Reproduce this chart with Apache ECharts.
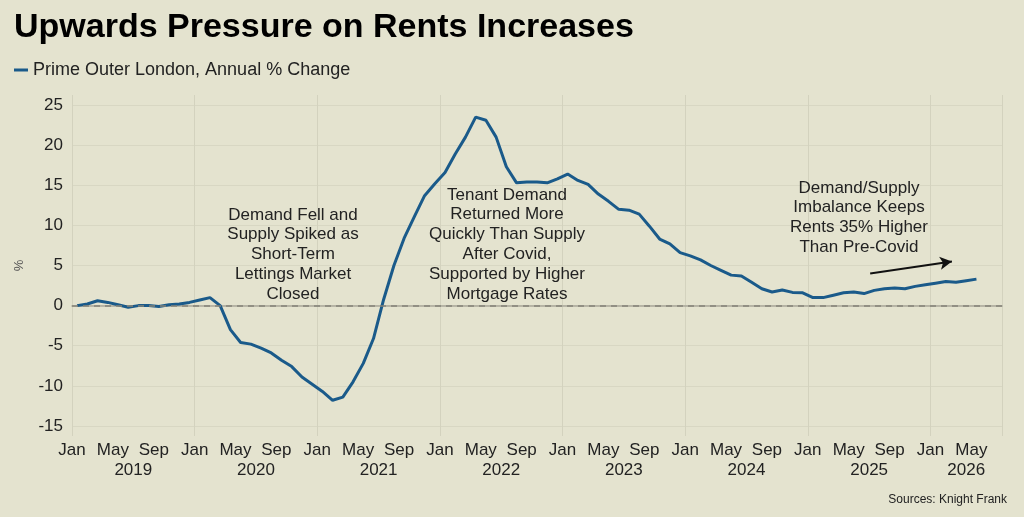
<!DOCTYPE html>
<html>
<head>
<meta charset="utf-8">
<script src="https://cdn.jsdelivr.net/npm/echarts@6/dist/echarts.min.js"></script>
<style>
  html, body { margin: 0; padding: 0; background: #e4e3cf; }
  #chart { width: 1024px; height: 517px; }
</style>
</head>
<body>
<div id="chart"></div>
<script>
// monthly values, Jan 2019 .. May 2026
var values = [
  0.0, 0.2, 0.6, 0.4, 0.1, -0.2, 0.0, 0.0, -0.1, 0.1, 0.2, 0.4,
  0.7, 1.0, 0.0, -3.0, -4.6, -4.8, -5.3, -5.9, -6.8, -7.6, -8.9, -9.8,
  -10.7, -11.8, -11.4, -9.5, -7.2, -4.1, 0.8, 5.0, 8.4, 11.1, 13.7, 15.2,
  16.6, 18.9, 21.0, 23.5, 23.1, 21.0, 17.3, 15.3, 15.4, 15.4, 15.3, 15.8,
  16.4, 15.6, 15.1, 13.9, 13.0, 12.0, 11.9, 11.4, 9.9, 8.3, 7.7, 6.6,
  6.2, 5.7, 5.0, 4.4, 3.8, 3.7, 2.9, 2.1, 1.7, 1.95, 1.65, 1.6,
  1.0, 1.0, 1.3, 1.6, 1.7, 1.5, 1.9, 2.1, 2.2, 2.1, 2.4, 2.6,
  2.8, 3.0, 2.9, 3.1, 3.3
];
var monthNames = ["Jan", "Feb", "Mar", "Apr", "May", "Jun", "Jul", "Aug", "Sep", "Oct", "Nov", "Dec"];
var years = ["2019", "2020", "2021", "2022", "2023", "2024", "2025", "2026"];
var yTicks = [-15, -10, -5, 0, 5, 10, 15, 20, 25];
var totalMonths = 91; // axis runs to end of Jul 2026

var seriesName = "Prime Outer London, Annual % Change";

// each month sits in the middle of its slot
var points = values.map(function (v, i) { return [i + 0.5, v]; });

// year labels centred on the visible part of each year
var yearCenters = years.map(function (y, k) {
  var start = k * 12;
  var end = Math.min(start + 12, totalMonths);
  return (start + end) / 2;
});

var font = "'Liberation Sans', Arial, sans-serif";
var txt = "#222";

function note(x, y, text) {
  return {
    type: "text", x: x, y: y, z: 100,
    style: {
      text: text, align: "center", verticalAlign: "top", lineHeight: 19.8,
      font: "17px " + font, fill: txt
    }
  };
}

var myChart = echarts.init(document.getElementById("chart"));
myChart.setOption({
  backgroundColor: "#e4e3cf",
  animation: false,
  textStyle: { fontFamily: font },
  title: {
    text: "Upwards Pressure on Rents Increases",
    left: 9,
    top: 6,
    textStyle: { fontSize: 34, fontWeight: "bold", color: "#000", fontFamily: font }
  },
  legend: {
    left: 9,
    top: 56,
    icon: "rect",
    itemWidth: 14,
    itemHeight: 3,
    textStyle: { fontSize: 18, color: txt, fontFamily: font },
    data: [seriesName]
  },
  grid: { left: 72, right: 22, top: 95, bottom: 81 },
  xAxis: [
    {
      type: "value",
      position: "bottom",
      min: 0,
      max: totalMonths,
      interval: 4,
      axisLine: { show: true, lineStyle: { color: "#a9a89a", width: 1.5 } },
      axisTick: { show: false },
      splitLine: { show: false },
      axisLabel: {
        fontSize: 17,
        color: txt,
        margin: 6,
        showMaxLabel: false,
        formatter: function (v) { return monthNames[v % 12]; }
      }
    },
    {
      type: "value",
      position: "bottom",
      min: 0,
      max: totalMonths,
      interval: 12,
      axisLine: { show: false },
      axisTick: { show: false },
      axisLabel: { show: false },
      splitLine: { show: true, lineStyle: { color: "#d3d2be", width: 1 } }
    },
    {
      type: "value",
      position: "bottom",
      min: 0,
      max: totalMonths,
      axisLine: { show: false },
      axisTick: { show: false, customValues: yearCenters },
      splitLine: { show: false },
      axisLabel: {
        fontSize: 17,
        color: txt,
        margin: 26,
        customValues: yearCenters,
        formatter: function (v) { return years[yearCenters.indexOf(v)]; }
      }
    }
  ],
  yAxis: {
    type: "value",
    min: -16.25,
    max: 26.25,
    name: "%",
    nameLocation: "middle",
    nameGap: 46,
    nameRotate: 90,
    nameTextStyle: { fontSize: 13, color: "#555" },
    axisLine: { show: false },
    axisTick: { show: false, customValues: yTicks },
    axisLabel: { fontSize: 17, color: txt, margin: 9, customValues: yTicks },
    splitLine: { show: true, lineStyle: { color: "#d8d7c3", width: 1 } }
  },
  graphic: [
    note(293, 205, "Demand Fell and\nSupply Spiked as\nShort-Term\nLettings Market\nClosed"),
    note(507, 185, "Tenant Demand\nReturned More\nQuickly Than Supply\nAfter Covid,\nSupported by Higher\nMortgage Rates"),
    note(859, 178, "Demand/Supply\nImbalance Keeps\nRents 35% Higher\nThan Pre-Covid"),
    {
      type: "text", right: 17, top: 494, z: 100,
      style: { text: "Sources: Knight Frank", font: "12px " + font, fill: "#222" }
    }
  ],
  series: [
    {
      name: seriesName,
      type: "line",
      data: points,
      showSymbol: false,
      smooth: false,
      lineStyle: { color: "#1a5a8a", width: 3 },
      itemStyle: { color: "#1a5a8a" },
      markLine: {
        silent: true,
        animation: false,
        symbol: ["none", "none"],
        label: { show: false },
        data: [
          {
            yAxis: 0,
            lineStyle: { color: "#858479", width: 1.5, type: [6, 5] }
          },
          [
            { coord: [78.1, 4.0], lineStyle: { color: "#111", width: 2, type: "solid" } },
            { coord: [86.1, 5.5], symbol: "arrow", symbolSize: [10, 12] }
          ]
        ]
      }
    }
  ]
});
</script>
</body>
</html>
